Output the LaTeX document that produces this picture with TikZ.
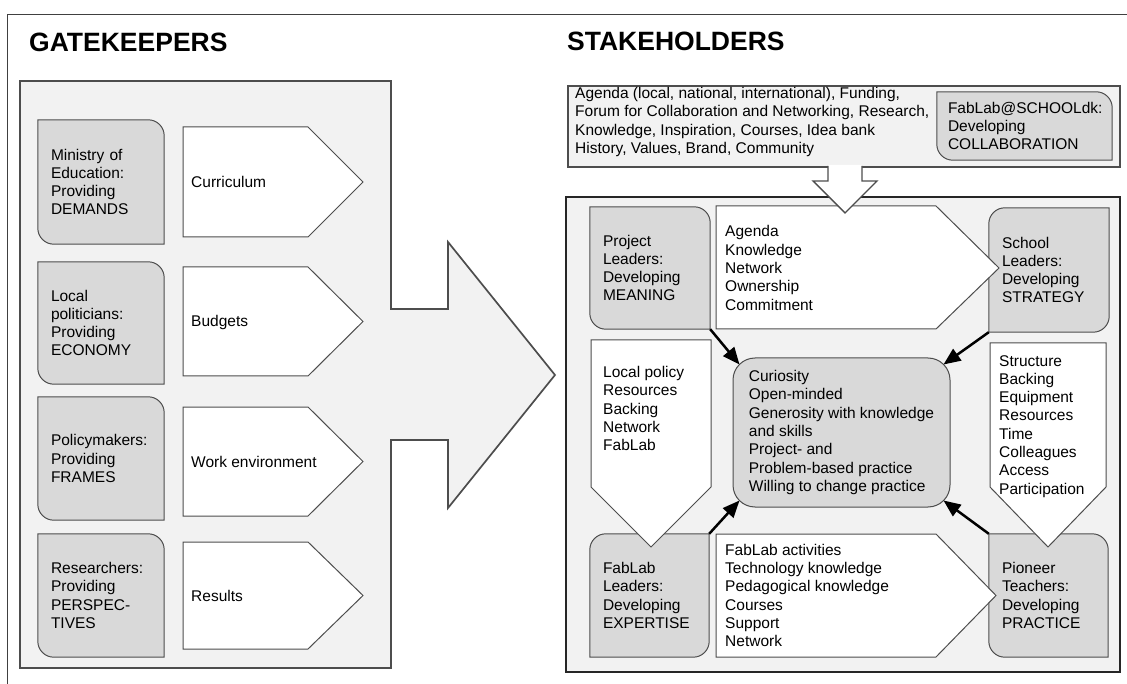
\documentclass[tikz,border=0pt]{standalone}
\usepackage{fontspec}
\setmainfont{Liberation Sans}
\usetikzlibrary{arrows.meta,calc}
\pgfdeclarelayer{panels}
\pgfdeclarelayer{boxes}
\pgfdeclarelayer{pointers}
\pgfsetlayers{panels,boxes,pointers,main}

\definecolor{panelgray}{HTML}{F2F2F2}
\definecolor{boxgray}{HTML}{D9D9D9}
\definecolor{edgegray}{HTML}{4D4D4D}

% corner radius of the actor boxes
\newcommand\cornr{16pt}
% actor box rounded at top-right and bottom-left
\newcommand\roundTRBL[1]{\draw[gshape] (#1.north west) -- ([xshift=-\cornr]#1.north east) arc[start angle=90,end angle=0,radius=\cornr] -- (#1.south east) -- ([xshift=\cornr]#1.south west) arc[start angle=270,end angle=180,radius=\cornr] -- cycle;}
% actor box rounded at top-left and bottom-right
\newcommand\roundTLBR[1]{\draw[gshape] ([yshift=-\cornr]#1.north west) arc[start angle=180,end angle=90,radius=\cornr] -- (#1.north east) -- ([yshift=\cornr]#1.south east) arc[start angle=0,end angle=-90,radius=\cornr] -- (#1.south west) -- cycle;}

\tikzset{
  body/.style={font=\fontsize{15.5}{18.3}\selectfont},
  title/.style={font=\bfseries\fontsize{26.5}{30}\selectfont, inner sep=0pt},
  gbox/.style={body, inner xsep=13pt, inner ysep=0pt, align=left},
  lbl/.style={body, inner sep=0pt},
  list/.style={body, align=left, inner sep=0pt},
  gshape/.style={fill=boxgray, draw=edgegray, line width=1pt},
  pshape/.style={fill=white, draw=edgegray, line width=1pt},
  panel/.style={fill=panelgray, draw=edgegray, line width=1.7pt},
  conn/.style={line width=2.5pt, -{Triangle[length=17pt,width=14pt]}},
  frame/.style={draw=black!75, line width=1pt}
}

\begin{document}
\begin{tikzpicture}[x=1pt,y=1pt]
\useasboundingbox (0,0) rectangle (1127,-684);

% page frame
\draw[frame] (7,-684) -- (7,-15) -- (1127,-15);

% headings
\node[title, anchor=base west] (gk) at (29,-52) {GATEKEEPERS};
\node[title, anchor=base west] (sh) at (567,-51) {STAKEHOLDERS};

% ---------------- gatekeepers panel (one big arrow) ----------------
\begin{pgfonlayer}{panels}
  \draw[panel] (20,-81) -- (391,-81) -- (391,-309) -- (448,-309) -- (448,-242)
    -- (555,-375) -- (448,-508) -- (448,-440) -- (391,-440) -- (391,-668) -- (20,-668) -- cycle;
\end{pgfonlayer}

\node[gbox, text width=100pt, minimum height=124pt] (moe) at (101,-182) {Ministry of\\Education:\\Providing\\DEMANDS};
\node[gbox, text width=100pt, minimum height=122pt] (pol) at (101,-323) {Local\\politicians:\\Providing\\ECONOMY};
\node[gbox, text width=100pt, minimum height=123pt] (pmk) at (101,-458.5) {Policymakers:\\Providing\\FRAMES};
\node[gbox, text width=100pt, minimum height=123pt] (res) at (101,-595.5) {Researchers:\\Providing\\PERSPEC-\\TIVES};

\begin{pgfonlayer}{boxes}
  \roundTRBL{moe}
  \roundTRBL{pol}
  \roundTRBL{pmk}
  \roundTRBL{res}
\end{pgfonlayer}

\begin{pgfonlayer}{pointers}
  \draw[pshape] (183,-127) -- (308,-127) -- (363,-182) -- (308,-237) -- (183,-237) -- cycle;
  \draw[pshape] (183,-267) -- (308,-267) -- (363,-321.5) -- (308,-376) -- (183,-376) -- cycle;
  \draw[pshape] (183,-407) -- (308,-407) -- (363,-461.5) -- (308,-516) -- (183,-516) -- cycle;
  \draw[pshape] (183,-542) -- (308,-542) -- (363,-595.5) -- (308,-649) -- (183,-649) -- cycle;
\end{pgfonlayer}

\node[lbl, anchor=base west] (cur) at (191,-188) {Curriculum};
\node[lbl, anchor=base west] (bud) at (191,-327) {Budgets};
\node[lbl, anchor=base west] (wen) at (191,-467) {Work environment};
\node[lbl, anchor=base west] (rsl) at (191,-601) {Results};

% ---------------- stakeholders ----------------
\begin{pgfonlayer}{panels}
  \node[panel, anchor=north west, minimum width=552pt, minimum height=81pt, inner sep=0pt] (topbox) at (567,-85) {};
  \node[panel, draw=black!85, line width=2pt, anchor=north west, minimum width=554pt, minimum height=475pt, inner sep=0pt] (stake) at (565,-196) {};
\end{pgfonlayer}

\node[list, anchor=north west] (agd) at (575,-87) {Agenda (local, national, international), Funding,\\Forum for Collaboration and Networking, Research,\\Knowledge, Inspiration, Courses, Idea bank\\History, Values, Brand, Community};
\node[gbox, inner xsep=11pt, text width=153pt, minimum height=68pt] (fsd) at (1024.5,-126) {FabLab@SCHOOLdk:\\Developing\\COLLABORATION};

\node[gbox, text width=94pt, minimum height=122pt] (prl) at (650,-268) {Project\\Leaders:\\Developing\\MEANING};
\node[gbox, text width=94pt, minimum height=124pt] (scl) at (1049,-270) {School\\Leaders:\\Developing\\STRATEGY};
\node[gbox, text width=93pt, minimum height=123pt] (fll) at (649.5,-595.5) {FabLab\\Leaders:\\Developing\\EXPERTISE};
\node[gbox, text width=93pt, minimum height=123pt] (pio) at (1048.5,-595.5) {Pioneer\\Teachers:\\Developing\\PRACTICE};

\begin{pgfonlayer}{boxes}
  \roundTRBL{fsd}
  \roundTRBL{prl}
  \roundTLBR{scl}
  \roundTLBR{fll}
  \roundTRBL{pio}
\end{pgfonlayer}

\begin{pgfonlayer}{pointers}
  \draw[pshape] (716,-206) -- (936,-206) -- (999,-268) -- (936,-329) -- (716,-329) -- cycle;
  \draw[pshape] (591,-340) -- (711,-340) -- (711,-487) -- (651,-547) -- (591,-487) -- cycle;
  \draw[pshape] (990,-343) -- (1106,-343) -- (1106,-487) -- (1048,-547) -- (990,-487) -- cycle;
  \draw[pshape] (716,-534) -- (936,-534) -- (996,-595.5) -- (936,-657) -- (716,-657) -- cycle;
\end{pgfonlayer}

\node[list, anchor=west] (agk) at (725,-268) {Agenda\\Knowledge\\Network\\Ownership\\Commitment};
\node[list, anchor=north west] (lpl) at (603,-366) {Local policy\\Resources\\Backing\\Network\\FabLab};
\node[list, anchor=north west] (stc) at (999,-355) {Structure\\Backing\\Equipment\\Resources\\Time\\Colleagues\\Access\\Participation};
\node[list, anchor=west] (fac) at (725,-595.5) {FabLab activities\\Technology knowledge\\Pedagogical knowledge\\Courses\\Support\\Network};

% shared qualities in the middle
\node[body, align=left, minimum width=217pt, minimum height=149pt, rounded corners=22pt,
      fill=boxgray, draw=edgegray, line width=1pt] (ctr) at (841.5,-432.5)
  {Curiosity\\Open-minded\\Generosity with knowledge\\and skills\\Project- and\\Problem-based practice\\Willing to change practice};

% actors feeding the shared qualities
\draw[conn] (prl.south east) -- ([shift={(7pt,-7pt)}]ctr.north west);
\draw[conn] (scl.south west) -- ([shift={(-7pt,-7pt)}]ctr.north east);
\draw[conn] (fll.north east) -- ([shift={(7pt,7pt)}]ctr.south west);
\draw[conn] (pio.north west) -- ([shift={(-7pt,7pt)}]ctr.south east);

% arrow from the national level down into the school level
\fill[white] (828,-165) -- (828,-181) -- (813,-181) -- (845,-213) -- (877,-181) -- (862,-181) -- (862,-165) -- cycle;
\draw[edgegray, line width=1.4pt, line join=miter] (828,-166) -- (828,-181) -- (813,-181) -- (845,-213) -- (877,-181) -- (862,-181) -- (862,-166);
\end{tikzpicture}
\end{document}
